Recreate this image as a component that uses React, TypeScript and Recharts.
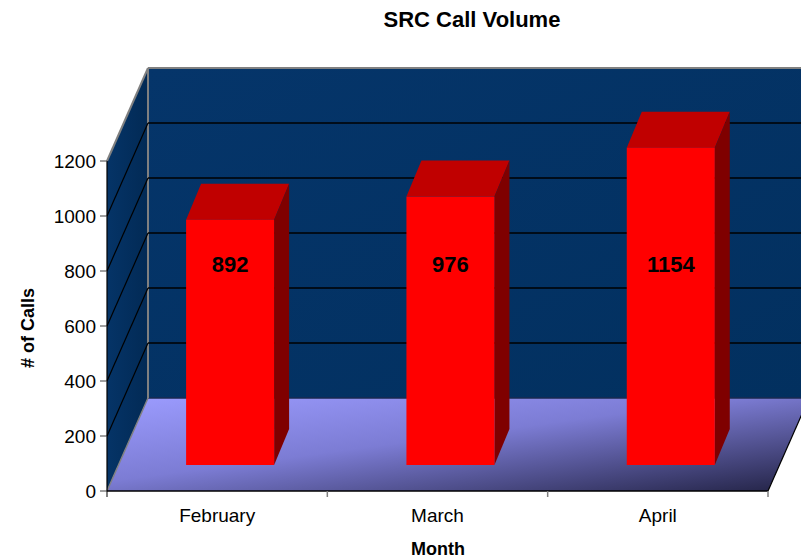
import React from 'react';
import { BarChart, Bar, XAxis, YAxis, CartesianGrid, Customized } from 'recharts';

const MONTHS = ['February', 'March', 'April'];
const CALLS = [892, 976, 1154];
const Y_TICKS = [0, 200, 400, 600, 800, 1000, 1200];
const TITLE = 'SRC Call Volume';
const X_TITLE = 'Month';
const Y_TITLE = '# of Calls';

const data = MONTHS.map((m, i) => ({ month: m, calls: CALLS[i] }));

const W = 801;
const H = 558;
const PLOT_LEFT = 107;
const PLOT_RIGHT = 768;
const PLOT_TOP = 161;
const PLOT_BOTTOM = 491;
const DX = 41;
const DY = -93;
const FRONT_X = 13;
const FRONT_Y = -26;
const DEPTH_X = 15;
const DEPTH_Y = -36;
const FONT = '"Liberation Sans", Arial, sans-serif';
const BAND = (PLOT_RIGHT - PLOT_LEFT) / MONTHS.length;

function Walls() {
  const L = PLOT_LEFT, R = PLOT_RIGHT, T = PLOT_TOP, B = PLOT_BOTTOM;
  return (
    <g>
      <defs>
        <linearGradient id="floorGrad" x1="0" y1="0" x2="1" y2="1">
          <stop offset="0" stopColor="#9c9cff" />
          <stop offset="0.45" stopColor="#7c7cd4" />
          <stop offset="1" stopColor="#222244" />
        </linearGradient>
        <linearGradient id="sideGrad" x1="0" y1="0" x2="1" y2="0">
          <stop offset="0" stopColor="#053467" />
          <stop offset="1" stopColor="#022a55" />
        </linearGradient>
        <linearGradient id="backGrad" x1="0" y1="0" x2="1" y2="1">
          <stop offset="0" stopColor="#05356a" />
          <stop offset="1" stopColor="#02305f" />
        </linearGradient>
      </defs>
      <rect x={L + DX} y={T + DY} width={R - L} height={B - T} fill="url(#backGrad)" />
      <polygon points={`${L},${T} ${L + DX},${T + DY} ${L + DX},${B + DY} ${L},${B}`} fill="url(#sideGrad)" />
      <polygon points={`${L},${B} ${L + DX},${B + DY} ${R + DX},${B + DY} ${R},${B}`} fill="url(#floorGrad)" />
      <line x1={L + DX} y1={B + DY} x2={R + DX} y2={B + DY} stroke="#1a2a50" strokeWidth={1.5} />
      <line x1={L + DX} y1={T + DY} x2={R + DX} y2={T + DY} stroke="#808080" strokeWidth={2} />
      <line x1={L + DX} y1={T + DY} x2={L + DX} y2={B + DY} stroke="#808080" strokeWidth={2} />
      <line x1={L} y1={T} x2={L + DX} y2={T + DY} stroke="#808080" strokeWidth={2} />
      <line x1={L} y1={B} x2={L + DX} y2={B + DY} stroke="#808080" strokeWidth={1.5} />
      <line x1={R} y1={B} x2={R + DX} y2={B + DY} stroke="#000" strokeWidth={1.2} />
    </g>
  );
}

function Titles() {
  return (
    <g>
      <text x={472} y={27} textAnchor="middle" fontFamily={FONT} fontWeight="bold" fontSize={22} fill="#000">{TITLE}</text>
      <text x={438} y={555} textAnchor="middle" fontFamily={FONT} fontWeight="bold" fontSize={18} fill="#000">{X_TITLE}</text>
      <text x={0} y={0} transform={`translate(34,328) rotate(-90)`} textAnchor="middle" fontFamily={FONT} fontWeight="bold" fontSize={18} fill="#000">{Y_TITLE}</text>
    </g>
  );
}

function gridLine(props: any) {
  const { x1, y1, x2, index } = props;
  const edge = Math.abs(y1 - PLOT_TOP) < 0.5 || Math.abs(y1 - PLOT_BOTTOM) < 0.5;
  return (
    <g key={`g${index}`}>
      {index === 0 && <Walls />}
      {!edge && (
        <g>
          <line x1={x1} y1={y1} x2={x1 + DX} y2={y1 + DY} stroke="#000" strokeWidth={1.2} />
          <line x1={x1 + DX} y1={y1 + DY} x2={x2 + DX} y2={y1 + DY} stroke="#000" strokeWidth={1.5} />
        </g>
      )}
    </g>
  );
}

function Bar3D(props: any) {
  const { x, y, width, height, value } = props;
  const fx = x + FRONT_X;
  const fy = y + FRONT_Y;
  const ddx = DEPTH_X;
  const ddy = DEPTH_Y;
  return (
    <g>
      <polygon points={`${fx},${fy} ${fx + ddx},${fy + ddy} ${fx + width + ddx},${fy + ddy} ${fx + width},${fy}`} fill="#c00000" />
      <polygon points={`${fx + width},${fy} ${fx + width + ddx},${fy + ddy} ${fx + width + ddx},${fy + height + ddy} ${fx + width},${fy + height}`} fill="#7f0000" />
      <rect x={fx} y={fy} width={width} height={height} fill="#ff0000" />
      <text x={fx + width / 2} y={272} textAnchor="middle" fontFamily={FONT} fontWeight="bold" fontSize={22} fill="#000">{value}</text>
    </g>
  );
}

function XTick(props: any) {
  const { x, payload, index } = props;
  return (
    <g>
      <text x={x} y={PLOT_BOTTOM + 31} textAnchor="middle" fontFamily={FONT} fontSize={19} fill="#000">{payload.value}</text>
      {index === 0 && <line x1={x - BAND / 2} y1={PLOT_BOTTOM} x2={x - BAND / 2} y2={PLOT_BOTTOM + 6} stroke="#000" />}
      <line x1={x + BAND / 2} y1={PLOT_BOTTOM} x2={x + BAND / 2} y2={PLOT_BOTTOM + 6} stroke="#808080" strokeWidth={1.5} />
    </g>
  );
}

export default function App() {
  return (
    <div style={{ position: 'absolute', left: 0, top: 0, width: W, height: H, background: '#fff' }}>
      <BarChart
        width={W}
        height={H}
        data={data}
        margin={{ top: PLOT_TOP, right: W - PLOT_RIGHT, bottom: 27, left: 47 }}
        barCategoryGap="30%"
        style={{ fontFamily: FONT }}
      >
        <CartesianGrid horizontal={gridLine} vertical={false} />
        <Customized component={Titles} />
        <XAxis
          dataKey="month"
          height={40}
          axisLine={{ stroke: '#000', strokeWidth: 1.5 }}
          tickLine={false}
          tick={<XTick />}
          interval={0}
        />
        <YAxis
          width={60}
          domain={[0, 1200]}
          ticks={Y_TICKS}
          axisLine={{ stroke: '#000', strokeWidth: 1.2 }}
          tickLine={{ stroke: '#404040' }}
          tickSize={7}
          tickMargin={4}
          tick={{ fill: '#000', fontSize: 19, fontFamily: FONT }}
        />
        <Bar dataKey="calls" shape={<Bar3D />} isAnimationActive={false} />
      </BarChart>
    </div>
  );
}
